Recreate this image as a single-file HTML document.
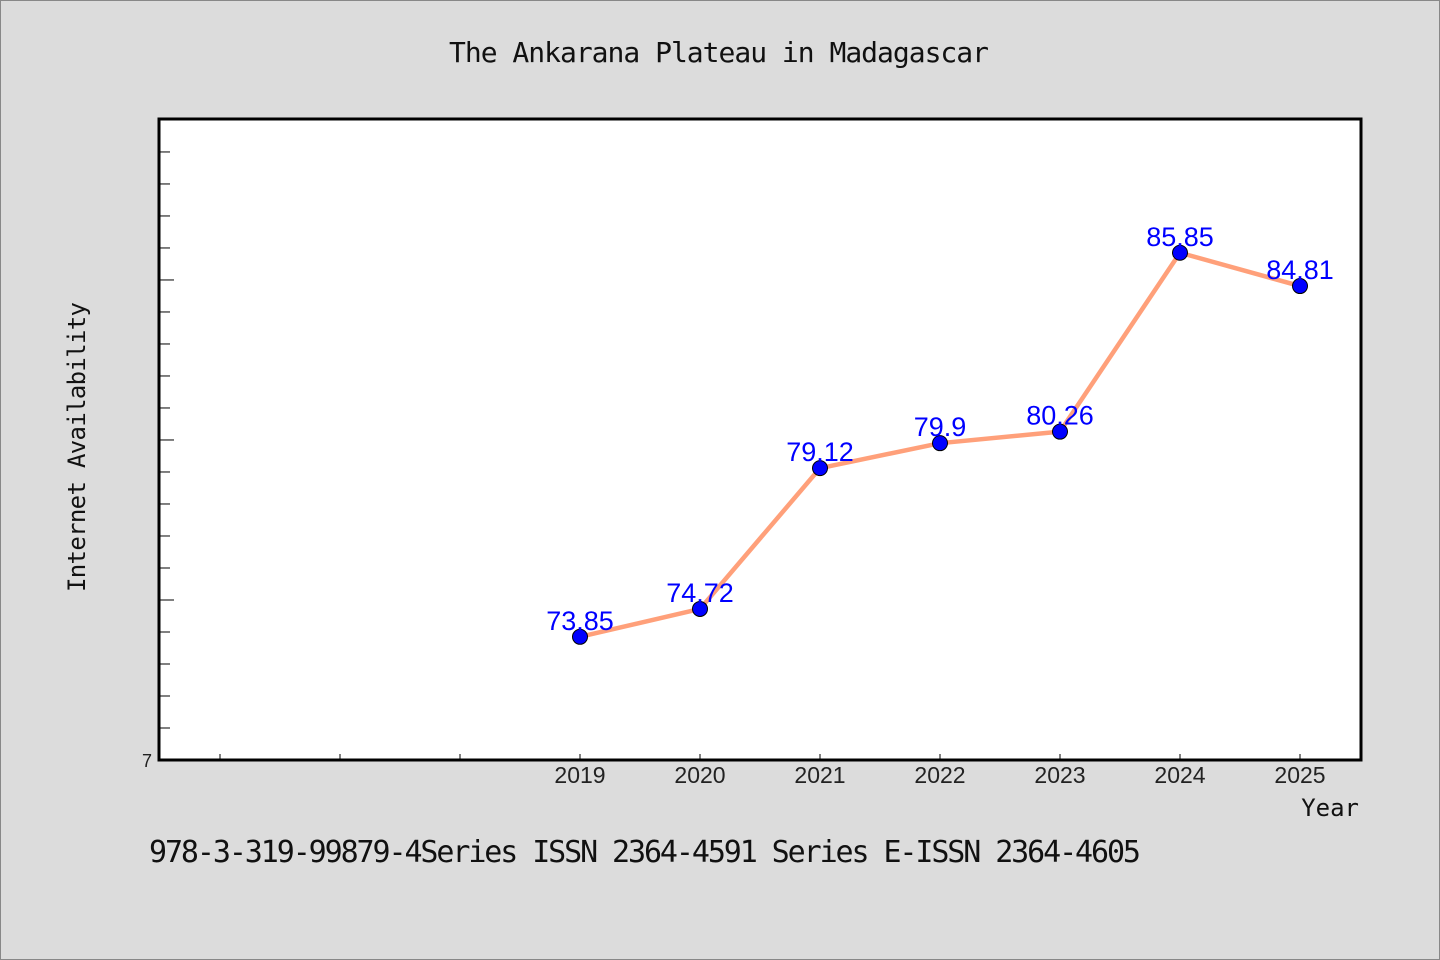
<!DOCTYPE html>
<html><head><meta charset="utf-8"><style>body{margin:0;background:#dcdcdc}svg{display:block}</style></head>
<body>
<svg id="chart" width="1440" height="960" xmlns="http://www.w3.org/2000/svg">
<rect x="0.5" y="0.5" width="1439" height="959" fill="#dcdcdc" stroke="#888"/>
<text x="719" y="62" text-anchor="middle" font-family="'WenQuanYi Zen Hei Mono','WenQuanYi Zen Hei',monospace" font-size="28" textLength="540" fill="#111">The Ankarana Plateau in Madagascar</text>
<rect x="159" y="119" width="1202" height="641" fill="#fff" stroke="#000" stroke-width="3"/>
<g id="yticks"></g><g id="xticks"></g><g id="series"></g>
<text transform="translate(85,447) rotate(-90)" text-anchor="middle" font-family="'WenQuanYi Zen Hei Mono','WenQuanYi Zen Hei',monospace" font-size="24" textLength="290" fill="#111">Internet Availability</text>
<text x="1359" y="816" text-anchor="end" font-family="'WenQuanYi Zen Hei Mono','WenQuanYi Zen Hei',monospace" font-size="24" fill="#111">Year</text>
<text x="149" y="862" font-family="'WenQuanYi Zen Hei Mono','WenQuanYi Zen Hei',monospace" font-size="30" textLength="992" fill="#111">978-3-319-99879-4Series ISSN 2364-4591 Series E-ISSN 2364-4605</text>
</svg>
<script>
const categories = ["", "", "", "2019", "2020", "2021", "2022", "2023", "2024", "2025"];
const values = [null, null, null, 73.85, 74.72, 79.12, 79.9, 80.26, 85.85, 84.81];
const valueLabels = ["", "", "", "73.85", "74.72", "79.12", "79.9", "80.26", "85.85", "84.81"];
const yMin = 70, yMax = 90.03;
const NS = "http://www.w3.org/2000/svg";
const L = 160, R = 1360, T = 119, B = 760;
const xs = i => L + (R - L) / categories.length * (i + 0.5);
const ys = v => B - (v - yMin) / (yMax - yMin) * (B - T);
function mk(tag, attrs, parent, txt) {
  const e = document.createElementNS(NS, tag);
  for (const k in attrs) e.setAttribute(k, attrs[k]);
  if (txt !== undefined) e.textContent = txt;
  parent.appendChild(e); return e;
}
const yt = document.getElementById('yticks');
for (let v = yMin + 1; v < yMax; v++) {
  const major = v % 5 === 0;
  const t = mk('line', {x1: L, x2: L + (major ? 14 : 10), y1: ys(v), y2: ys(v), stroke: '#000', 'stroke-width': 1}, yt);
  
  
}
const yl = mk('text', {x: 152, y: 767, 'text-anchor': 'end', 'font-family': 'Liberation Sans, sans-serif', 'font-size': 18, fill: '#222'}, yt, '7');


const xt = document.getElementById('xticks');
categories.forEach((c, i) => {
  const t = mk('line', {x1: xs(i), x2: xs(i), y1: B, y2: B - 6, stroke: '#000', 'stroke-width': 1}, xt);
  
  
  if (c) {
    const l = mk('text', {x: xs(i), y: 783, 'text-anchor': 'middle', 'font-family': 'Liberation Sans, sans-serif', 'font-size': 23, fill: '#222'}, xt, c);
    
    
  }
});
const sg = document.getElementById('series');
const pts = [];
values.forEach((v, i) => { if (v !== null) pts.push([xs(i), ys(v), i]); });
const line = mk('polyline', {points: pts.map(p => p[0] + ',' + p[1]).join(' '), fill: 'none', stroke: '#FFA07A', 'stroke-width': 4.5, 'stroke-linejoin': 'round'}, sg);


pts.forEach(p => {
  const c = mk('circle', {cx: p[0], cy: p[1], r: 7.5, fill: '#0000ff', stroke: '#000', 'stroke-width': 1}, sg);
  
  
});
pts.forEach(p => {
  const t = mk('text', {x: p[0], y: p[1] - 7, 'text-anchor': 'middle', 'font-family': 'Liberation Sans, sans-serif', 'font-size': 27, fill: '#0000ff'}, sg, valueLabels[p[2]]);
  
  
});
</script>
</body></html>
